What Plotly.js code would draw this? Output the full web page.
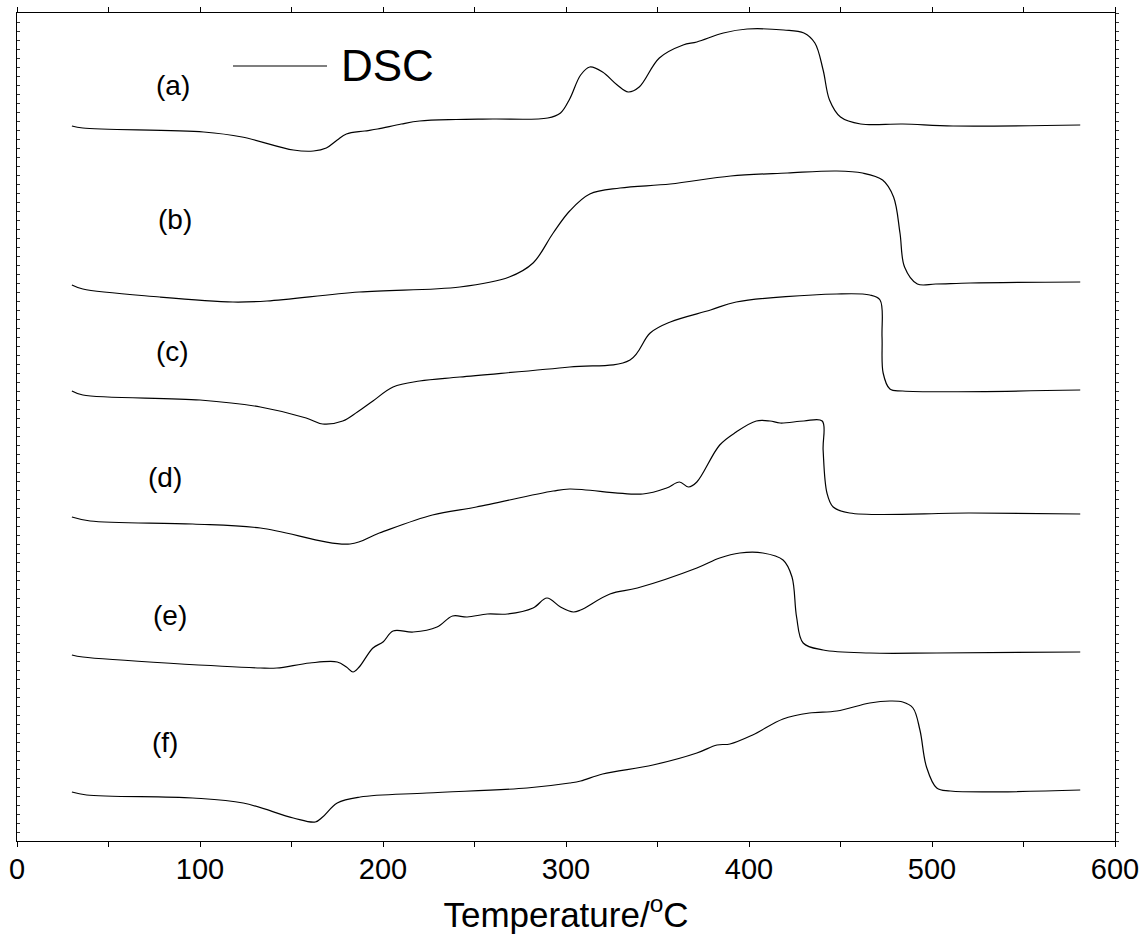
<!DOCTYPE html>
<html>
<head>
<meta charset="utf-8">
<script src="https://cdn.plot.ly/plotly-3.0.1.min.js"></script>
<style>html,body{margin:0;padding:0;background:#fff;}#chart{width:1140px;height:942px;}</style>
</head>
<body>
<div id="chart"></div>
<script>
// Temperature (°C) and DSC signal (arbitrary, stacked)
const tempA = [30,36,102,123,151,162,169,175,180,190,197,210,220,240,260,290,297,302,308,313,320,328,334,340,351,364,371.5,386,399,419,430,436,440.5,444,450,461,484,511.5,581];
const dscA  = [715,713,709,704,691,690,693,701,707,710,712,717,720,721.5,722,723,728,742,766,774,769,756,749,754,783,796,799,808,812,811,808,798,771,741,724,717,717,715,716];

const tempB = [30,36,78,118,136.6,187,242,269,282,293,302,313,329.5,357,390,421,448,462,473,479,482.5,485,492,502,521,581];
const dscB  = [556,552,544,539,540,549,554,564,578,608,630,647,653,657,665,668,670,668,661,644,608,574,557,557,558,559];

const tempC = [30,36,100,133,158,167,178,186,194.5,205.5,220,242,302,335,346,357,379,393,448,466,471.6,472.7,473.3,477,484,581];
const dscC  = [450,446,441,434,423,417,420,429,440,454,460,464,474,481,508,519,531,539,547,546,541,504,468,452,450,451];

const tempD = [30,40,96,133,182,198,227,251,293,302,342,355,362,367,371.5,384,393,404,411.5,417,430,440,440.5,442.6,446,455,521,581];
const dscD  = [324,320,317,313,297,308,326,334,350,352,347,353,359,354,359,396,409,420,420,418,420,420,391,348,334,328,328,327];

const tempE = [30,36,133,142,160,175,180,183.6,187,194.5,200,205.5,216.5,229.5,238,246,257,268,282,289.6,297,304,308,324,339,371.5,384,395,407.6,418.6,423.5,426,429.6,440.5,466,502.6,581];
const dscE  = [186,184,173,173,178,179,174,169,174,193,199,210,209,214,225,224,227,227,233,243,234,229,231,247,253,273,283,288,288,281,264,224,198,191,188,188,189];

const tempF = [30,38,96,123.6,151,163,167,175,187.5,224,278.7,302,308,320,347.5,371.5,382.5,389.6,402,418.6,433,448,466,477,484,489.6,493.4,497,502.6,510,581];
const dscF  = [49,46,43,38,23,19,24,38,44,48,53,58,60,67,76,88,96,97,106,122,128,130,138,140,139,133,111,74,53,50,51];

const sampleLabels = ['(a)','(b)','(c)','(d)','(e)','(f)'];
const legendName = 'DSC';
const xTickVals = [0,100,200,300,400,500,600];

const series = [[tempA,dscA],[tempB,dscB],[tempC,dscC],[tempD,dscD],[tempE,dscE],[tempF,dscF]];
const traces = series.map((s,i)=>({
  x: s[0], y: s[1], type:'scatter', mode:'lines',
  line:{color:'#000', width:1.2, shape:'spline', smoothing:1},
  name: legendName, showlegend:false, hoverinfo:'skip'
}));
// invisible trace that carries the right-hand axis
traces.push({x:[0], y:[0], yaxis:'y2', mode:'markers', marker:{opacity:0}, showlegend:false, hoverinfo:'skip'});

const FONT = '"Liberation Sans", Arial, sans-serif';
// label anchor positions (temperature, signal)
const labelPos = [[85,756],[86.3,622],[85,490],[81,364],[83.6,226],[80.6,99]];
const annotations = sampleLabels.map((t,i)=>({
  x: labelPos[i][0], y: labelPos[i][1], xref:'x', yref:'y', text:t, showarrow:false,
  font:{family:FONT, size:28, color:'#000'}, xanchor:'center', yanchor:'middle'
}));
annotations.push({x:(339-17)/1098, y:(841-66)/828, xref:'paper', yref:'paper', text:legendName, showarrow:false,
  font:{family:FONT, size:44, color:'#000'}, xanchor:'left', yanchor:'middle'});

const layout = {
  width:1140, height:942,
  margin:{l:17, r:25, t:13, b:101},
  paper_bgcolor:'#fff', plot_bgcolor:'#fff',
  showlegend:false,
  xaxis:{
    range:[0,600], tickvals:xTickVals, ticktext:xTickVals.map(String),
    ticks:'outside', ticklen:5, tickwidth:1, tickcolor:'#000',
    minor:{dtick:50, ticks:'outside', ticklen:5, tickcolor:'#000'},
    showline:true, linecolor:'#000', linewidth:1.2, mirror:'ticks',
    showgrid:false, zeroline:false, ticklabeloverflow:'allow', ticklabelstandoff:-3,
    tickfont:{family:FONT, size:29, color:'#000'},
    title:{text:'Temperature/<sup>o</sup>C', font:{family:FONT, size:35, color:'#000'}, standoff:18}
  },
  yaxis:{
    range:[0,828], dtick:9, ticks:'inside', ticklen:3, tickcolor:'#333',
    showticklabels:false, showline:true, linecolor:'#000', linewidth:1.2,
    showgrid:false, zeroline:false
  },
  yaxis2:{
    range:[0,828], dtick:9, overlaying:'y', side:'right', ticks:'outside', ticklen:3, tickcolor:'#333',
    showticklabels:false, showline:true, linecolor:'#000', linewidth:1.2,
    showgrid:false, zeroline:false
  },
  shapes:[{type:'line', xref:'paper', yref:'paper', x0:(233-17)/1098, x1:(327-17)/1098, y0:(841-66)/828, y1:(841-66)/828, line:{color:'#000', width:1.2}}],
  annotations: annotations
};
Plotly.newPlot('chart', traces, layout, {displayModeBar:false, staticPlot:true});
</script>
</body>
</html>
